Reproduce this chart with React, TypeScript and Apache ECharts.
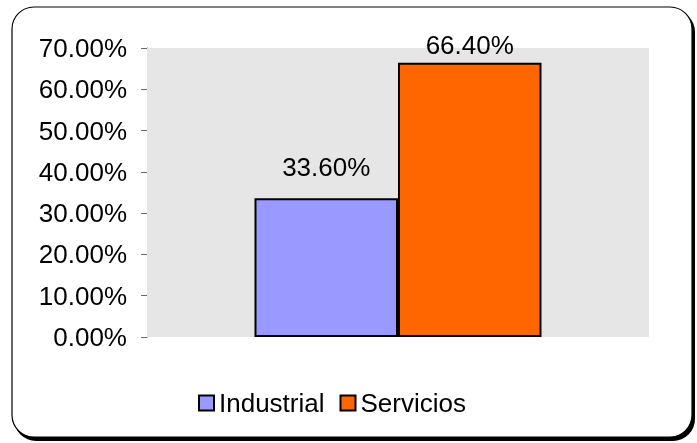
import React, { useEffect, useRef } from "react";
import * as echarts from "echarts";

const categories = [""];
const seriesNames = ["Industrial", "Servicios"];
const industrialValues = [33.6];
const serviciosValues = [66.4];
const seriesColors = ["#9999ff", "#ff6600"];
const labelDistances = [18, 5];

export default function App() {
  const ref = useRef<HTMLDivElement>(null);
  useEffect(() => {
    const chart = echarts.init(ref.current!, null, { renderer: "svg" });
    const font = "'Liberation Sans', Arial, sans-serif";
    const valuesList = [industrialValues, serviciosValues];
    chart.setOption({
      animation: false,
      textStyle: { fontFamily: font },
      graphic: [
        {
          type: "rect",
          z: -100,
          silent: true,
          shape: { x: 14, y: 10, width: 681, height: 431, r: 22 },
          style: { fill: "#000" },
        },
        {
          type: "rect",
          z: -99,
          silent: true,
          shape: { x: 12, y: 7, width: 680, height: 430, r: 22 },
          style: { fill: "#fff", stroke: "#000", lineWidth: 1.2 },
        },
      ],
      grid: {
        left: 147,
        right: 48,
        top: 48,
        bottom: 106,
        show: true,
        backgroundColor: "#e6e6e6",
        borderWidth: 0,
        z: 1,
      },
      legend: {
        data: seriesNames,
        left: 193,
        top: 385,
        itemWidth: 15,
        itemHeight: 15,
        itemGap: 15,
        textStyle: { fontSize: 26, color: "#000", fontFamily: font },
        icon: "rect",
      },
      xAxis: {
        type: "category",
        data: categories,
        axisLine: { show: false },
        axisTick: { show: false },
        axisLabel: { show: false },
      },
      yAxis: {
        type: "value",
        min: 0,
        max: 70,
        interval: 10,
        splitLine: { show: false },
        axisLine: { show: true, lineStyle: { color: "#666", width: 1 } },
        axisTick: { show: true, length: 6, lineStyle: { color: "#666" } },
        axisLabel: {
          margin: 20,
          fontSize: 26,
          color: "#000",
          fontFamily: font,
          formatter: (v: number) => v.toFixed(2) + "%",
        },
      },
      series: seriesNames.map((name, i) => ({
        name,
        type: "bar",
        data: valuesList[i],
        barWidth: 143.5,
        barGap: "0%",
        itemStyle: {
          color: seriesColors[i],
          borderColor: "#000",
          borderWidth: 2,
        },
        label: {
          show: true,
          position: "top",
          distance: labelDistances[i],
          fontSize: 26,
          color: "#000",
          fontFamily: font,
          formatter: (p: any) => Number(p.value).toFixed(2) + "%",
        },
      })),
    });
    return () => chart.dispose();
  }, []);
  return (
    <div
      ref={ref}
      style={{ position: "fixed", left: 0, top: 0, width: 697, height: 443 }}
    />
  );
}
